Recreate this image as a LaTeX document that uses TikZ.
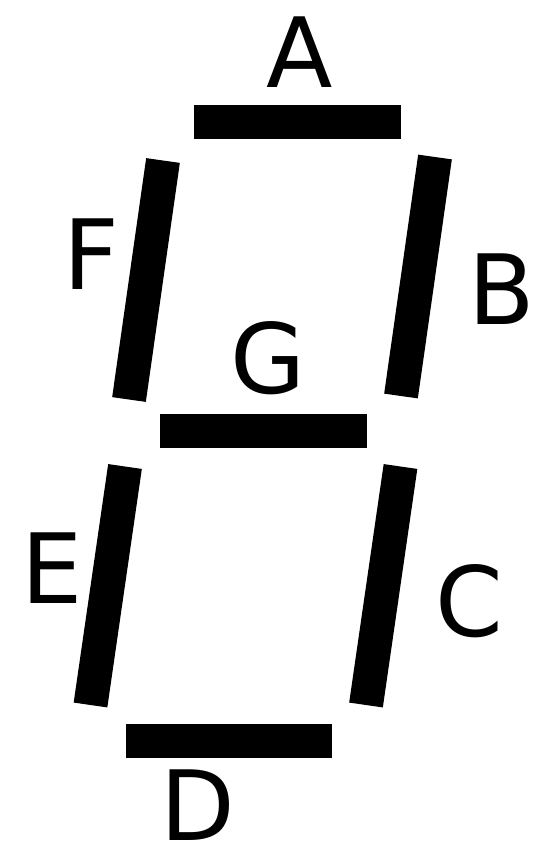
\documentclass[tikz,border=0pt]{standalone}
\usepackage{fontspec}
\setmainfont{DejaVu Sans}
\begin{document}
\begin{tikzpicture}[x=1pt,y=-1pt,
  seg/.style={line width=34pt, line cap=butt, draw=black},
  lbl/.style={inner sep=0pt, font=\fontsize{97}{100}\selectfont}]
\useasboundingbox (0,0) rectangle (536,846);
% segments
\draw[seg] (194,122) -- (401,122);     % A
\draw[seg] (435,157) -- (401,396);     % B
\draw[seg] (400.5,466.5) -- (366,705); % C
\draw[seg] (126,740.5) -- (332,740.5); % D
\draw[seg] (125,466.5) -- (90.5,705);  % E
\draw[seg] (163,160.5) -- (129,399.5); % F
\draw[seg] (160,431) -- (367,431);     % G
% labels
\node[lbl] (la) at (300,52) {A};
\node[lbl] (lb) at (501.5,289) {B};
\node[lbl] (lc) at (469,601) {C};
\node[lbl] (ld) at (198,805) {D};
\node[lbl] (le) at (52,568) {E};
\node[lbl] (lf) at (91,254.5) {F};
\node[lbl] (lg) at (268,358) {G};
\end{tikzpicture}
\end{document}
